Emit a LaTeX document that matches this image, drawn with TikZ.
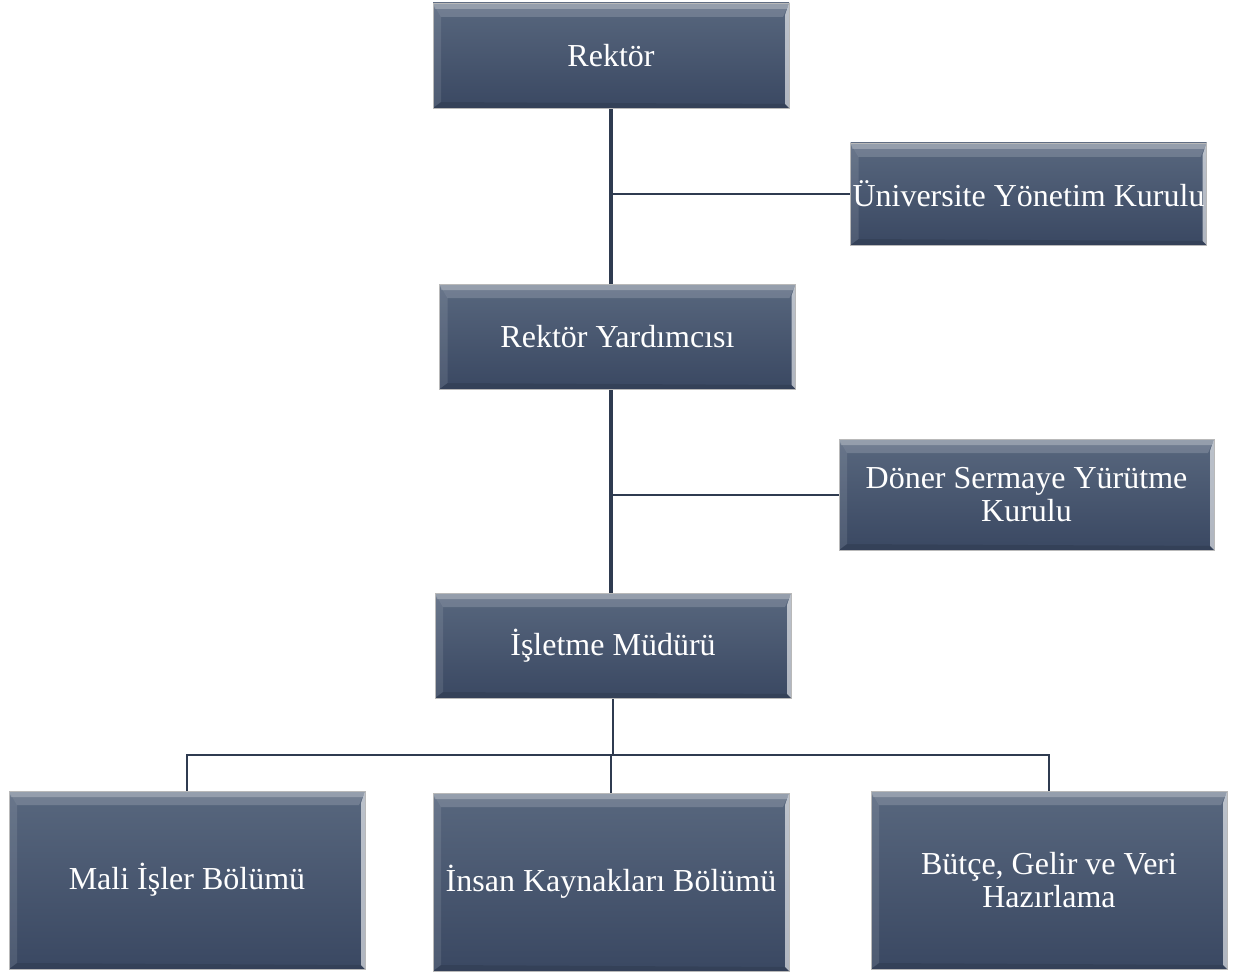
\documentclass[tikz,border=0pt]{standalone}
\usepackage{fontspec}
\setmainfont{Liberation Serif}
\usetikzlibrary{positioning, calc, backgrounds}
\definecolor{boxtop}{HTML}{58677E}
\definecolor{boxbot}{HTML}{3A4862}
\definecolor{linecol}{HTML}{2F3B50}
\tikzset{
         orgbox/.style={draw=gray!55, line width=.4pt, top color=boxtop, bottom color=boxbot,
                        text=white, align=center, inner sep=0pt,
                        font=\fontsize{16}{16.5}\selectfont,
                        minimum width=178pt, minimum height=52.5pt,
                        path picture={
                          \fill[white, opacity=.16] (path picture bounding box.north west) -- (path picture bounding box.north east)
                            -- ([shift={(-3pt,-7pt)}]path picture bounding box.north east) -- ([shift={(4pt,-7pt)}]path picture bounding box.north west) -- cycle;
                          \fill[white, opacity=.25] (path picture bounding box.north west) -- (path picture bounding box.north east)
                            -- ([shift={(-1pt,-3pt)}]path picture bounding box.north east) -- ([shift={(1pt,-3pt)}]path picture bounding box.north west) -- cycle;
                          \fill[white, opacity=.1] (path picture bounding box.north west) -- ([shift={(4pt,-7pt)}]path picture bounding box.north west)
                            -- ([shift={(4pt,3pt)}]path picture bounding box.south west) -- (path picture bounding box.south west) -- cycle;
                          \fill[white, opacity=.6] (path picture bounding box.north east) -- (path picture bounding box.south east)
                            -- ([shift={(-2pt,2pt)}]path picture bounding box.south east) -- ([shift={(-2pt,-6pt)}]path picture bounding box.north east) -- cycle;
                          \fill[black, opacity=.1] (path picture bounding box.south west) -- (path picture bounding box.south east)
                            -- ([shift={(-2pt,2pt)}]path picture bounding box.south east) -- ([shift={(4pt,3pt)}]path picture bounding box.south west) -- cycle;
                        }},
         tallbox/.style={orgbox, minimum height=89pt},
         mainline/.style={draw=linecol, line width=2.2pt},
         subline/.style={draw=linecol, line width=1pt}
      }

\begin{document}
\begin{tikzpicture}[x=0.5pt, y=-0.5pt]
  \useasboundingbox (0,0) rectangle (1233,974);

  % boxes
  \node[orgbox] (rektor) at (611,55.5) {Rektör};
  \node[orgbox, minimum height=51pt] (uyk) at (1028.5,194) {Üniversite Yönetim Kurulu};
  \node[orgbox] (yard) at (617.5,336.5) {Rektör Yardımcısı};
  \node[orgbox, minimum width=187.5pt, minimum height=55.5pt] (dsyk) at (1026.5,494.5) {Döner Sermaye Yürütme\\Kurulu};
  \node[orgbox] (mudur) at (613,645.5) {İşletme Müdürü};
  \node[tallbox] (mali) at (187,880) {Mali İşler Bölümü};
  \node[tallbox] (insan) at (611,882) {İnsan Kaynakları Bölümü};
  \node[tallbox] (butce) at (1049,880) {Bütçe, Gelir ve Veri\\Hazırlama};

  % connectors
  \coordinate (bus) at ($(mudur.south)+(0,57)$);
  \begin{scope}[on background layer]
    \draw[mainline] (rektor.south) -- (rektor.south |- mudur.north);
    \draw[subline] (rektor.south |- uyk.west) -- (uyk.west);
    \draw[subline] (rektor.south |- dsyk.west) -- (dsyk.west);
    \draw[subline] (mudur.south) -- (bus) -- (bus -| insan.north) -- (insan.north);
    \draw[subline] (mali.north) |- (bus) -| (butce.north);
  \end{scope}
\end{tikzpicture}
\end{document}
